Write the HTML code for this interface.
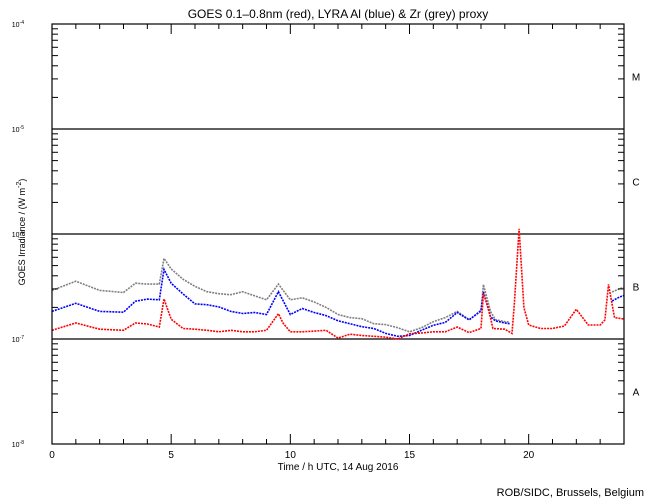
<!DOCTYPE html>
<html><head><meta charset="utf-8"><style>
body{margin:0;background:#fff;}
svg{display:block;font-family:"Liberation Sans",sans-serif;}
</style></head><body>
<svg id="chart" width="650" height="500" viewBox="0 0 650 500" xmlns="http://www.w3.org/2000/svg">
<rect width="650" height="500" fill="#fff"/>
<text x="338" y="18" font-size="12" text-anchor="middle">GOES 0.1–0.8nm (red), LYRA Al (blue) &amp; Zr (grey) proxy</text>
<text x="338" y="470" font-size="10" text-anchor="middle">Time / h UTC, 14 Aug 2016</text>
<text x="0" y="0" font-size="9" text-anchor="middle" transform="translate(25,232) rotate(-90)">GOES Irradiance / (W m<tspan dy="-4" font-size="7">-2</tspan><tspan dy="4">)</tspan></text>
<text x="644" y="496" font-size="11" text-anchor="end">ROB/SIDC, Brussels, Belgium</text>
<g id="grid"></g><g id="series"></g><g id="axes"></g>
</svg>
<script>
// time in hours
const redT = [0,1,2,3,3.5,4,4.5,4.7,4.8,5,5.5,6,6.5,7,7.5,8,8.5,9,9.5,9.7,10,10.5,11,11.5,12,12.5,13,13.5,14,14.5,15,15.5,16,16.5,17,17.5,18,18.1,18.3,18.5,19,19.3,19.4,19.6,19.8,20,20.5,21,21.5,22,22.5,23,23.2,23.35,23.6,24];
const redY = [1.21e-7,1.42e-7,1.24e-7,1.21e-7,1.42e-7,1.39e-7,1.30e-7,2.41e-7,2.07e-7,1.54e-7,1.26e-7,1.24e-7,1.21e-7,1.17e-7,1.21e-7,1.17e-7,1.17e-7,1.21e-7,1.74e-7,1.41e-7,1.17e-7,1.17e-7,1.19e-7,1.21e-7,1.02e-7,1.11e-7,1.08e-7,1.06e-7,1.04e-7,1.00e-7,1.12e-7,1.14e-7,1.17e-7,1.17e-7,1.30e-7,1.15e-7,1.26e-7,2.70e-7,2.00e-7,1.26e-7,1.24e-7,1.13e-7,2.2e-7,1.12e-6,2.0e-7,1.36e-7,1.26e-7,1.26e-7,1.33e-7,1.92e-7,1.36e-7,1.36e-7,1.52e-7,3.31e-7,1.60e-7,1.55e-7];
const blueT = [0,1,2,3,3.5,4,4.5,4.7,5,5.5,6,6.5,7,7.5,8,8.5,9,9.5,10,10.5,11,11.5,12,12.5,13,13.5,14,14.5,15,15.5,16,16.5,17,17.5,18,18.1,18.4,18.6,19,19.2];
const blueY = [1.83e-7,2.19e-7,1.83e-7,1.80e-7,2.29e-7,2.40e-7,2.36e-7,4.60e-7,3.39e-7,2.68e-7,2.16e-7,2.12e-7,2.02e-7,1.83e-7,1.75e-7,1.79e-7,1.71e-7,2.82e-7,1.71e-7,1.95e-7,1.79e-7,1.67e-7,1.49e-7,1.40e-7,1.31e-7,1.26e-7,1.13e-7,1.06e-7,1.08e-7,1.21e-7,1.35e-7,1.44e-7,1.79e-7,1.52e-7,1.87e-7,2.80e-7,1.63e-7,1.49e-7,1.42e-7,1.40e-7];
const blue2T = [23.5,23.8,24];
const blue2Y = [2.3e-7,2.5e-7,2.6e-7];
const greyT = [0,1,2,3,3.5,4,4.5,4.7,5,5.5,6,6.5,7,7.5,8,8.5,9,9.5,10,10.5,11,11.5,12,12.5,13,13.5,14,14.5,15,15.5,16,16.5,17,17.5,18,18.1,18.4,18.6,19,19.2];
const greyY = [2.90e-7,3.55e-7,2.90e-7,2.77e-7,3.40e-7,3.33e-7,3.33e-7,5.86e-7,4.64e-7,3.70e-7,3.17e-7,2.82e-7,2.70e-7,2.64e-7,2.82e-7,2.58e-7,2.36e-7,3.33e-7,2.36e-7,2.47e-7,2.25e-7,2.00e-7,1.71e-7,1.60e-7,1.56e-7,1.40e-7,1.37e-7,1.28e-7,1.17e-7,1.28e-7,1.46e-7,1.60e-7,1.83e-7,1.53e-7,1.83e-7,3.3e-7,1.83e-7,1.53e-7,1.46e-7,1.45e-7];
const grey2T = [23.5,23.8,24];
const grey2Y = [2.8e-7,3.0e-7,3.1e-7];
const xTicks = [0,5,10,15,20];
const decades = [-4,-5,-6,-7,-8];
const classes = ["M","C","B","A"];

const X0=52,X1=624,Y0=24,Y1=444;
const xs = t => X0 + (t/24)*(X1-X0);
const ys = v => Y0 + (-4 - Math.log10(v))*105;
const NS="http://www.w3.org/2000/svg";
function mk(tag, parent, attrs){const e=document.createElementNS(NS,tag);for(const k in attrs)e.setAttribute(k,attrs[k]);parent.appendChild(e);return e;}
const axes=document.getElementById('axes'), grid=document.getElementById('grid'), ser=document.getElementById('series');

let fr=mk('rect',axes,{x:X0,y:Y0,width:X1-X0,height:Y1-Y0,fill:'none',stroke:'#000','stroke-width':1.2});



[-5,-6,-7].forEach(d=>{
  const l=mk('line',grid,{x1:X0,x2:X1,y1:ys(Math.pow(10,d)),y2:ys(Math.pow(10,d)),stroke:'#000','stroke-width':1.2});
  
  
});
decades.forEach(d=>{
  const y=ys(Math.pow(10,d));
  const t=mk('text',axes,{x:24,y:y+3,'font-size':7,'text-anchor':'end'});
  
  
  t.innerHTML='10<tspan dy="-3" font-size="5">'+d+'</tspan>';
  if(d>-8){for(let m=2;m<=9;m++){const yy=ys(m*Math.pow(10,d-1));
    mk('line',axes,{x1:X0,x2:X0+6,y1:yy,y2:yy,stroke:'#000'});
    mk('line',axes,{x1:X1,x2:X1-6,y1:yy,y2:yy,stroke:'#000'});}}
});
classes.forEach((c,i)=>{
  const t=mk('text',axes,{x:636,y:ys(Math.pow(10,-4-i-0.5))+4,'font-size':10,'text-anchor':'middle'});
  
  
  t.textContent=c;
});
for(let h=0;h<=24;h++){const x=xs(h),L=(h%5===0)?10:5;
  mk('line',axes,{x1:x,x2:x,y1:Y1,y2:Y1-L,stroke:'#000'});
  mk('line',axes,{x1:x,x2:x,y1:Y0,y2:Y0+L,stroke:'#000'});}
xTicks.forEach(h=>{
  const t=mk('text',axes,{x:xs(h),y:458,'font-size':10,'text-anchor':'middle'});
  
  
  t.textContent=h;
});
function line(T,V,col,name){
  const p=mk('polyline',ser,{points:T.map((t,i)=>xs(t).toFixed(1)+','+ys(V[i]).toFixed(1)).join(' '),fill:'none',stroke:col,'stroke-width':1.6,'stroke-dasharray':'2 1'});
  
  
}
line(greyT,greyY,'#808080','zr-grey-series');
line(grey2T,grey2Y,'#808080','zr-grey-series-end');
line(blueT,blueY,'#0000ff','al-blue-series');
line(blue2T,blue2Y,'#0000ff','al-blue-series-end');
line(redT,redY,'#ff0000','goes-red-series');
</script>
</body></html>
